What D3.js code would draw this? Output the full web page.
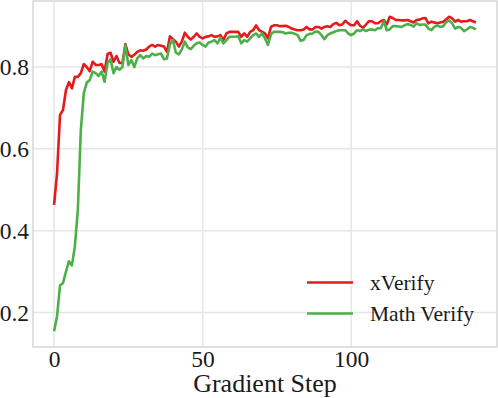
<!DOCTYPE html>
<html>
<head>
<meta charset="utf-8">
<script src="https://cdn.jsdelivr.net/npm/d3@7"></script>
<style>
  html, body { margin: 0; padding: 0; background: #fff; }
  svg { display: block; }
  text { font-family: "Liberation Serif", "Times New Roman", serif; fill: #1a1a1a; }
</style>
</head>
<body>
<svg id="chart" width="498" height="398"></svg>
<script>
// ---- data ----
const xVerify = [
  0.463,0.541,0.683,0.695,0.744,0.763,0.748,0.776,0.776,0.785,
  0.807,0.800,0.790,0.813,0.805,0.805,0.807,0.789,0.832,0.835,
  0.813,0.827,0.810,0.810,0.856,0.831,0.825,0.830,0.837,0.841,
  0.840,0.843,0.850,0.854,0.850,0.854,0.852,0.850,0.837,0.875,
  0.868,0.862,0.850,0.862,0.884,0.874,0.867,0.874,0.882,0.874,
  0.870,0.874,0.875,0.878,0.874,0.875,0.878,0.866,0.882,0.886,
  0.886,0.886,0.886,0.874,0.882,0.874,0.886,0.890,0.902,0.890,
  0.886,0.882,0.870,0.898,0.902,0.902,0.900,0.900,0.901,0.898,
  0.894,0.892,0.890,0.890,0.892,0.898,0.892,0.892,0.898,0.898,
  0.894,0.898,0.900,0.898,0.905,0.908,0.902,0.904,0.913,0.907,
  0.902,0.902,0.912,0.901,0.896,0.904,0.912,0.912,0.907,0.907,
  0.912,0.915,0.904,0.923,0.920,0.915,0.915,0.914,0.914,0.915,
  0.912,0.909,0.915,0.916,0.919,0.920,0.907,0.911,0.909,0.907,
  0.909,0.911,0.917,0.923,0.919,0.911,0.915,0.911,0.912,0.912,
  0.915,0.912,0.909
];
const mathVerify = [
  0.154,0.191,0.266,0.272,0.300,0.325,0.315,0.362,0.451,0.646,
  0.736,0.762,0.768,0.789,0.785,0.778,0.789,0.764,0.809,0.819,
  0.785,0.800,0.793,0.800,0.853,0.805,0.817,0.800,0.821,0.829,
  0.821,0.827,0.825,0.833,0.829,0.831,0.833,0.819,0.821,0.856,
  0.866,0.835,0.831,0.843,0.862,0.848,0.844,0.852,0.858,0.860,
  0.854,0.850,0.860,0.862,0.866,0.858,0.872,0.858,0.866,0.874,
  0.874,0.874,0.875,0.858,0.866,0.862,0.870,0.878,0.882,0.874,
  0.882,0.870,0.854,0.880,0.886,0.886,0.886,0.885,0.882,0.884,
  0.884,0.881,0.878,0.864,0.866,0.878,0.881,0.882,0.887,0.886,
  0.878,0.868,0.878,0.882,0.885,0.888,0.890,0.890,0.890,0.882,
  0.878,0.882,0.890,0.888,0.892,0.888,0.891,0.892,0.890,0.895,
  0.895,0.912,0.890,0.892,0.900,0.900,0.899,0.898,0.902,0.905,
  0.903,0.899,0.907,0.903,0.904,0.904,0.894,0.890,0.898,0.902,
  0.898,0.900,0.910,0.914,0.907,0.894,0.898,0.896,0.888,0.892,
  0.898,0.896,0.892
];
const steps = xVerify.map((_, i) => i);
const seriesNames = ["xVerify", "Math Verify"];
const seriesColors = ["#e41a1c", "#4daf4a"];
const xTicks = [0, 50, 100];
const yTicks = [0.2, 0.4, 0.6, 0.8];
const xLabel = "Gradient Step";

// ---- layout ----
const svg = d3.select("#chart");
const L = 33, R = 497, T = 1, B = 347;

const allVals = xVerify.concat(mathVerify);
const xmin = d3.min(steps), xmax = d3.max(steps);
const ymin = d3.min(allVals), ymax = d3.max(allVals);
const xm = (xmax - xmin) * 0.05, ym = (ymax - ymin) * 0.05;

const x = d3.scaleLinear().domain([xmin - xm, xmax + xm]).range([L, R]);
const y = d3.scaleLinear().domain([ymin - ym, ymax + ym]).range([B, T]);

// grid
const grid = svg.append("g");
grid.selectAll(".gx").data(xTicks).enter().append("line")
  .attr("x1", d => x(d)).attr("x2", d => x(d))
  .attr("y1", T).attr("y2", B)
  .attr("stroke", "#e6e6e6").attr("stroke-width", 1.5);
grid.selectAll(".gy").data(yTicks).enter().append("line")
  .attr("x1", L).attr("x2", R)
  .attr("y1", d => y(d)).attr("y2", d => y(d))
  .attr("stroke", "#e6e6e6").attr("stroke-width", 1.5);

// frame
svg.append("rect")
  .attr("x", L).attr("y", T).attr("width", R - L).attr("height", B - T)
  .attr("fill", "none").attr("stroke", "#d6d6d6").attr("stroke-width", 1.5);

// axes (labels only, ticks hidden)
const xAxis = d3.axisBottom(x).tickValues(xTicks).tickSize(0).tickPadding(0)
  .tickFormat(d3.format("d"));
const gx = svg.append("g").attr("transform", `translate(0,${B})`).call(xAxis);
gx.select(".domain").remove();
gx.selectAll("text").attr("font-size", 23.5).attr("dy", null).attr("y", 19.5)
  .attr("fill", "#1a1a1a");

const yAxis = d3.axisLeft(y).tickValues(yTicks).tickSize(0).tickPadding(0)
  .tickFormat(d3.format(".1f"));
const gy = svg.append("g").attr("transform", `translate(${L - 4},0)`).call(yAxis);
gy.select(".domain").remove();
gy.selectAll("text").attr("font-size", 23.5).attr("dy", "0.33em")
  .attr("fill", "#1a1a1a");

svg.selectAll(".tick text").style("font-family", "'Liberation Serif', 'Times New Roman', serif");

// x label
svg.append("text")
  .attr("x", (L + R) / 2).attr("y", 392)
  .attr("text-anchor", "middle").attr("font-size", 26)
  .text(xLabel);

// lines
const line = d3.line().x((d, i) => x(steps[i])).y(d => y(d));
[xVerify, mathVerify].forEach((s, k) => {
  svg.append("path").datum(s)
    .attr("d", line)
    .attr("fill", "none")
    .attr("stroke", seriesColors[k])
    .attr("stroke-width", 2.6)
    .attr("stroke-linejoin", "round");
});

// legend
const lg = svg.append("g");
seriesNames.forEach((name, k) => {
  const ly = 282.5 + k * 31;
  lg.append("line")
    .attr("x1", 307).attr("x2", 353).attr("y1", ly).attr("y2", ly)
    .attr("stroke", seriesColors[k]).attr("stroke-width", 2.6);
  lg.append("text")
    .attr("x", 370).attr("y", ly + 7.5)
    .attr("font-size", 21.5)
    .text(name);
});
</script>
</body>
</html>
